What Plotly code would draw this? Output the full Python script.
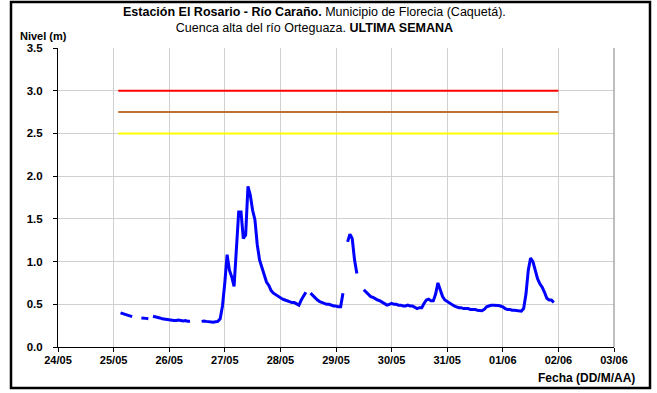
import pandas as pd
import plotly.graph_objects as go

# Hourly water level record, hours counted from 25/05 00:00 (None = missing reading)
hours = list(range(3, 9)) + [9] + list(range(12, 16)) + [16] + list(range(17, 34)) + [35] + \
    list(range(38, 84)) + [84] + list(range(85, 100)) + [100] + list(range(101, 106)) + [106] + \
    list(range(108, 191))

levels = (
    [0.40, 0.39, 0.38, 0.37, 0.36, 0.355] + [None]
    + [0.34, 0.34, 0.335, 0.33] + [None]
    + [0.36, 0.355, 0.345, 0.34, 0.33, 0.325, 0.32, 0.32, 0.315, 0.31, 0.31, 0.315, 0.31,
       0.305, 0.31, 0.30, 0.30] + [None]
    + [0.30, 0.305, 0.30, 0.295, 0.29, 0.29, 0.295, 0.30, 0.33, 0.48, 0.75, 1.08, 0.90, 0.82,
       0.71, 1.10, 1.58, 1.58, 1.27, 1.31, 1.88, 1.78, 1.60, 1.49, 1.20, 1.02, 0.94, 0.85,
       0.76, 0.72, 0.66, 0.63, 0.61, 0.59, 0.57, 0.56, 0.55, 0.54, 0.53, 0.52, 0.52, 0.50,
       0.49, 0.55, 0.60, 0.64] + [None]
    + [0.63, 0.60, 0.57, 0.55, 0.53, 0.52, 0.51, 0.50, 0.50, 0.49, 0.48, 0.48, 0.47, 0.47,
       0.63] + [None]
    + [1.23, 1.32, 1.27, 1.02, 0.86] + [None]
    + [0.67, 0.64, 0.61, 0.59, 0.58, 0.56, 0.55, 0.54, 0.52, 0.51, 0.49, 0.50, 0.51, 0.50,
       0.50, 0.49, 0.49, 0.48, 0.48, 0.49, 0.48, 0.48, 0.46, 0.45, 0.46, 0.46, 0.51, 0.55,
       0.56, 0.54, 0.54, 0.62, 0.75, 0.66, 0.59, 0.55, 0.53, 0.51, 0.50, 0.48, 0.47, 0.46,
       0.46, 0.45, 0.45, 0.45, 0.44, 0.44, 0.44, 0.43, 0.43, 0.425, 0.44, 0.47, 0.48, 0.49,
       0.49, 0.49, 0.485, 0.48, 0.47, 0.45, 0.44, 0.44, 0.43, 0.43, 0.425, 0.42, 0.42, 0.45,
       0.62, 0.90, 1.04, 1.00, 0.90, 0.80, 0.74, 0.70, 0.64, 0.57, 0.55, 0.55, 0.52]
)

# Alert thresholds (m) and the period they are drawn over
threshold_levels = [3.0, 2.75, 2.5]
threshold_colors = ["#FF0000", "#C0702F", "#FFFF00"]
threshold_span = ["2023-05-25 02:00", "2023-06-02 00:00"]

x_range = ["2023-05-24", "2023-06-03"]
y_range = [0, 3.5]

base = pd.Timestamp("2023-05-25")
times = [base + pd.Timedelta(hours=h) for h in hours]

FONT = "Liberation Sans, Arial, sans-serif"

fig = go.Figure()

for lvl, col in zip(threshold_levels, threshold_colors):
    fig.add_trace(go.Scatter(
        x=threshold_span, y=[lvl, lvl], mode="lines",
        line=dict(color=col, width=2), showlegend=False, hoverinfo="skip"))

fig.add_trace(go.Scatter(
    x=times, y=levels, mode="lines", connectgaps=False,
    line=dict(color="#0000FF", width=3), showlegend=False))

# geometry of the plotting area in pixels
W, H = 657, 393
L, R, T, B = 58, 43, 48, 46
pw, ph = W - L - R, H - T - B


def px(xp):
    return (xp - L) / pw


def py(yp):
    return (H - B - yp) / ph


fig.update_layout(
    width=W, height=H,
    margin=dict(l=L, r=R, t=T, b=B),
    paper_bgcolor="white", plot_bgcolor="white",
    font=dict(family=FONT, size=11, color="black"),
    xaxis=dict(
        type="date", range=x_range, dtick=86400000, tickformat="%d/%m",
        showgrid=True, gridcolor="#D0D0D0", gridwidth=1,
        showline=True, linecolor="black", linewidth=1,
        ticks="outside", ticklen=4, tickcolor="black", ticklabelstandoff=-1,
        tickfont=dict(family=FONT, size=11, color="black", weight="bold"),
        zeroline=False, fixedrange=True,
    ),
    yaxis=dict(
        range=y_range, dtick=0.5, tickformat=".1f",
        showgrid=True, gridcolor="#D0D0D0", gridwidth=1,
        showline=True, linecolor="black", linewidth=1,
        ticks="outside", ticklen=4, tickcolor="black", ticklabelstandoff=8,
        tickfont=dict(family=FONT, size=11.5, color="black", weight="bold"),
        zeroline=False, fixedrange=True,
    ),
    shapes=[
        # right edge of the plotting frame
        dict(type="line", xref="paper", yref="paper", x0=1, x1=1, y0=0, y1=1,
             line=dict(color="#808080", width=1)),
        # outer frame around the chart
        dict(type="rect", xref="paper", yref="paper",
             x0=px(11), x1=px(650), y0=py(388), y1=py(2),
             line=dict(color="black", width=2.5), fillcolor="rgba(0,0,0,0)"),
    ],
    annotations=[
        dict(text="<b>Estación El Rosario - Río Caraño.</b> Municipio de Florecia (Caquetá).<br>"
                  "Cuenca alta del río Orteguaza. <b>ULTIMA SEMANA</b>",
             xref="paper", yref="paper", x=px(314), y=py(3), xanchor="center", yanchor="top",
             showarrow=False, font=dict(family=FONT, size=12.5, color="black"), align="center"),
        dict(text="<b>Nivel (m)</b>", xref="paper", yref="paper", x=px(18), y=py(36),
             xanchor="left", yanchor="middle", showarrow=False,
             font=dict(family=FONT, size=11, color="black")),
        dict(text="<b>Fecha (DD/M/AA)</b>", xref="paper", yref="paper", x=px(637), y=py(378),
             xanchor="right", yanchor="middle", showarrow=False,
             font=dict(family=FONT, size=12, color="black")),
    ],
)

fig.write_html("out.html")
